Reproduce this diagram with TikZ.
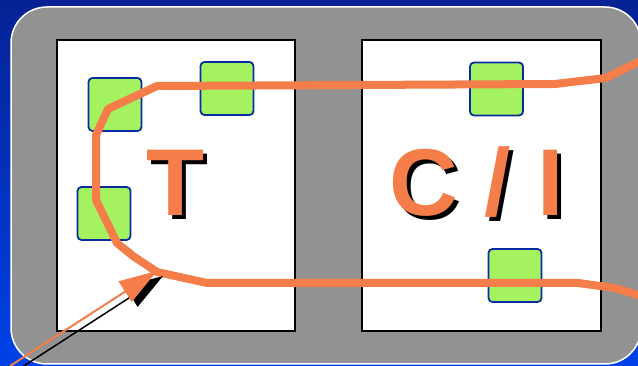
\documentclass[tikz,border=0pt]{standalone}
\usepackage{fontspec}
\setmainfont{Liberation Sans}
\usetikzlibrary{arrows.meta}

\definecolor{wire}{RGB}{244,125,74}
\definecolor{padgreen}{RGB}{164,242,96}
\definecolor{padedge}{RGB}{8,44,160}
\definecolor{frame}{RGB}{146,146,146}
\definecolor{navy}{RGB}{6,34,148}
\definecolor{brightblue}{RGB}{0,66,232}

% letters with a black drop shadow behind them
\newcommand{\dropshadow}[1]{\makebox[0pt][l]{\hspace{4pt}\raisebox{-4pt}{\color{black}#1}}#1}

\tikzset{
  tile/.style={draw=black, line width=2pt, fill=white, inner sep=0pt},
  pad/.style={draw=padedge, line width=1.8pt, fill=padgreen, rounded corners=4pt,
    minimum width=53pt, minimum height=53pt, inner sep=0pt},
  glyph/.style={inner sep=0pt, anchor=base, text=wire, font=\fontsize{95}{95}\selectfont\bfseries},
}

\begin{document}
\begin{tikzpicture}[x=1pt,y=-1pt]
      \useasboundingbox (0,0) rectangle (638,366);
      \shade[top color=navy, bottom color=brightblue] (0,0) rectangle (638,366);
      \filldraw[fill=frame, draw=white, line width=1.5pt, rounded corners=36pt] (11,7) rectangle (641,364);

      % the two tiles
      \node[tile, minimum width=238pt, minimum height=291pt] (tiletest) at (176,185.5) {};
      \node[tile, minimum width=239pt, minimum height=291pt] (tilecore) at (481.5,185.5) {};

      % pads
      \node[pad] (padA) at (115,104.5) {};
      \node[pad] (padB) at (227,88.5) {};
      \node[pad] (padC) at (104,213.5) {};
      \node[pad] (padD) at (496.5,89) {};
      \node[pad] (padE) at (515,275.5) {};

      % labels
      \node[glyph] (tlabel) at (175.5,216) {\dropshadow{T}};
      \node[glyph] (cilabel) at (477,216) {\dropshadow{C / I}};

      % scan route through both tiles
      \draw[wire, line width=8pt, line join=round]
        (650,56) -- (606,78) -- (555,84) -- (157,86) -- (108,109) -- (96,135)
        -- (96,200) -- (117,243) -- (133,256) -- (157,272) -- (207,283)
        -- (578,283) -- (615,288) -- (650,299);

      % probe arrow
      \coordinate (probe) at (10,366);
      \coordinate (entry) at (157,271);
      \draw[black, line width=1.5pt, -{Triangle[length=38pt, width=24pt]}]
        ([shift={(6,5)}]probe) -- ([shift={(6,5)}]entry);
      \draw[wire, line width=2pt, -{Triangle[length=38pt, width=24pt]}] (probe) -- (entry);
\end{tikzpicture}
\end{document}
